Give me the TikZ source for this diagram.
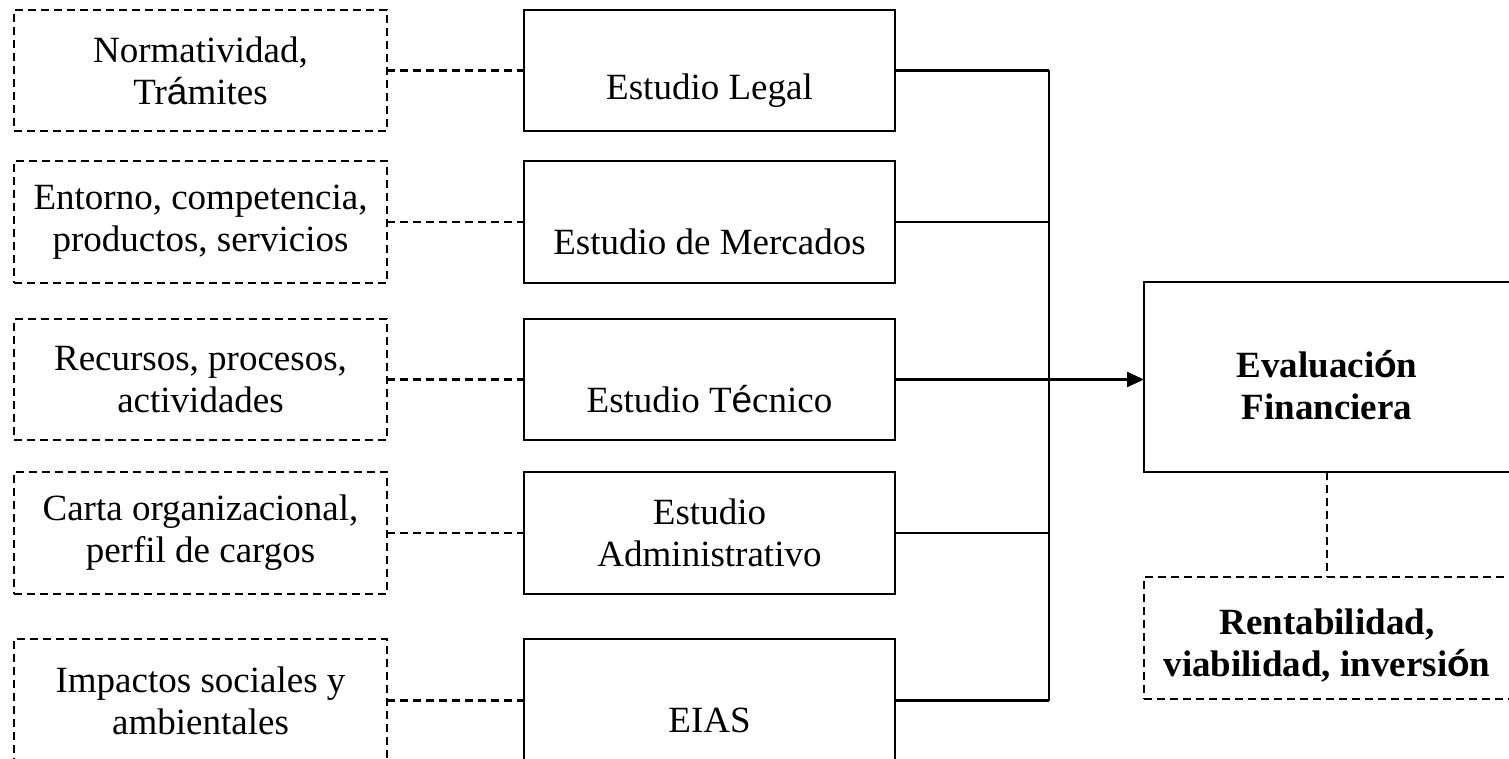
\documentclass[tikz,border=0pt]{standalone}
\usepackage{fontspec}
\setmainfont{Liberation Serif}
\newfontfamily\accf{Liberation Sans}
\usetikzlibrary{arrows.meta}
\begin{document}
\begin{tikzpicture}[x=1pt,y=-1pt,
  every node/.style={inner sep=0pt, outer sep=0pt, align=center,
    font=\fontsize{37}{42}\selectfont},
  dashbox/.style={draw, line width=2.2pt, dash pattern=on 8pt off 5pt,
    minimum width=373pt},
  solidbox/.style={draw, line width=2.2pt, minimum width=371pt},
  dashline/.style={line width=2.2pt, dash pattern=on 8pt off 5pt},
  solidline/.style={line width=2.2pt},
  lowtxt/.style={yshift=-20pt},
  boldtxt/.style={font=\fontsize{37}{42}\selectfont\bfseries, yshift=-8pt}
]
\useasboundingbox (0,0) rectangle (1509,759);
\clip (0,0) rectangle (1509,759);

% left dashed boxes
\node[dashbox, minimum height=121pt] (l1) at (200.5,70.5) {Normatividad,\\Tr{\accf á}mites};
\node[dashbox, minimum height=122pt] (l2) at (200.5,222) {Entorno, competencia,\\productos, servicios};
\node[dashbox, minimum height=121pt] (l3) at (200.5,379.5) {Recursos, procesos,\\actividades};
\node[dashbox, minimum height=122pt] (l4) at (200.5,533) {Carta organizacional,\\perfil de cargos};
\node[dashbox, minimum height=123pt] (l5) at (200.5,700.5) {Impactos sociales y\\ambientales};

% middle solid boxes
\node[solidbox, minimum height=121pt, label={[lowtxt]center:Estudio Legal}] (s1) at (709.5,70.5) {};
\node[solidbox, minimum height=122pt, label={[lowtxt]center:Estudio de Mercados}] (s2) at (709.5,222) {};
\node[solidbox, minimum height=121pt, label={[lowtxt]center:Estudio T{\accf é}cnico}] (s3) at (709.5,379.5) {};
\node[solidbox, minimum height=122pt] (s4) at (709.5,533) {Estudio\\Administrativo};
\node[solidbox, minimum height=123pt, label={[lowtxt]center:EIAS}] (s5) at (709.5,700.5) {};

% right boxes
\node[solidbox, minimum width=366pt, minimum height=190pt,
  label={[boldtxt]center:Evaluaci{\accf\bfseries ó}n\\Financiera}] (ev) at (1327,377) {};
\node[dashbox, minimum width=366pt, minimum height=122pt,
  label={[boldtxt]center:Rentabilidad,\\viabilidad, inversi{\accf\bfseries ó}n}] (rb) at (1327,638) {};

\coordinate (bus) at (1049,0);

% dashed links
\foreach \i in {1,...,5} {
  \draw[dashline] (l\i.east) -- (s\i.west);
}
\draw[dashline] (ev.south) -- (rb.north);

% solid links to bus
\foreach \i in {1,2,4,5} {
  \draw[solidline] (s\i.east) -- (s\i.east -| bus);
}
\draw[solidline] (s1.east -| bus) -- (s5.east -| bus);
\draw[solidline, -{Triangle[length=17pt,width=15pt]}] (s3.east) -- (s3.east -| ev.west);
\end{tikzpicture}
\end{document}
